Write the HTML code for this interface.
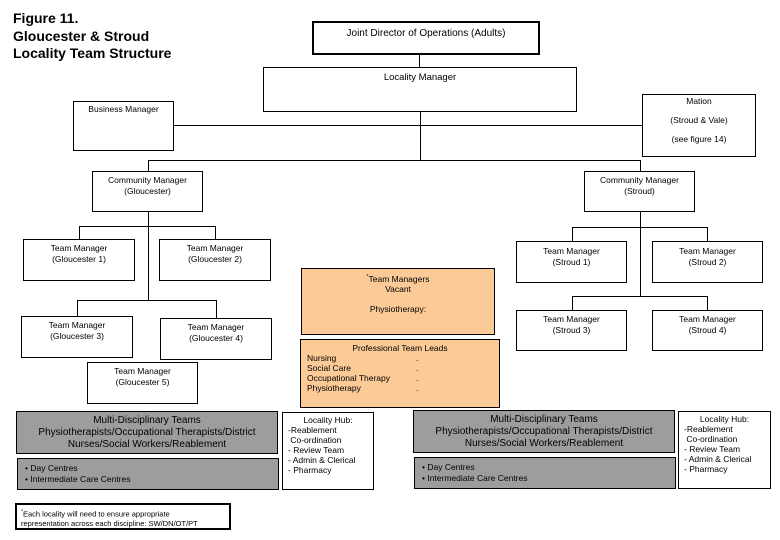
<!DOCTYPE html>
<html><head><meta charset="utf-8"><style>
body{margin:0;background:#fff;}
#c{position:relative;width:780px;height:540px;overflow:hidden;font-family:"Liberation Sans",Arial,sans-serif;color:#000;}
.b{position:absolute;border:1px solid #000;box-sizing:border-box;font-size:8.5px;text-align:center;line-height:11px;}
.h{position:absolute;height:1px;background:#000;}
.v{position:absolute;width:1px;background:#000;}
.g{background:#9d9d9d;}
.o{background:#fbca97;}
.t{position:absolute;font-size:8.5px;line-height:11px;white-space:nowrap;}
</style></head><body><div id="c">
<div class="t" style="left:13px;top:10px;font-size:14px;line-height:17.5px;font-weight:bold;">Figure 11.<br>Gloucester &amp; Stroud<br>Locality Team Structure</div>

<div class="b" style="left:312px;top:21px;width:228px;height:34px;border-width:2px;font-size:10px;padding-top:5px;">Joint Director of Operations (Adults)</div>
<div class="v" style="left:419px;top:55px;height:12px;"></div>
<div class="b" style="left:263px;top:67px;width:314px;height:45px;font-size:9.5px;padding-top:4px;">Locality Manager</div>
<div class="b" style="left:73px;top:101px;width:101px;height:50px;padding-top:2px;">Business Manager</div>
<div class="b" style="left:642px;top:94px;width:114px;height:63px;padding-top:2px;line-height:9.5px;">Mation<br><br>(Stroud &amp; Vale)<br><br>(see figure 14)</div>
<div class="h" style="left:174px;top:125px;width:468px;"></div>
<div class="v" style="left:420px;top:112px;height:48px;"></div>
<div class="h" style="left:148px;top:160px;width:492px;"></div>
<div class="v" style="left:148px;top:160px;height:11px;"></div>
<div class="v" style="left:640px;top:160px;height:11px;"></div>

<div class="b" style="left:92px;top:171px;width:111px;height:41px;padding-top:3px;">Community Manager<br>(Gloucester)</div>
<div class="b" style="left:584px;top:171px;width:111px;height:41px;padding-top:3px;">Community Manager<br>(Stroud)</div>

<div class="v" style="left:148px;top:212px;height:88px;"></div>
<div class="h" style="left:79px;top:226px;width:136px;"></div>
<div class="v" style="left:79px;top:226px;height:13px;"></div>
<div class="v" style="left:215px;top:226px;height:13px;"></div>
<div class="b" style="left:23px;top:239px;width:112px;height:42px;padding-top:3px;">Team Manager<br>(Gloucester 1)</div>
<div class="b" style="left:159px;top:239px;width:112px;height:42px;padding-top:3px;">Team Manager<br>(Gloucester 2)</div>
<div class="h" style="left:77px;top:300px;width:139px;"></div>
<div class="v" style="left:77px;top:300px;height:16px;"></div>
<div class="v" style="left:216px;top:300px;height:18px;"></div>
<div class="b" style="left:21px;top:316px;width:112px;height:42px;padding-top:3px;">Team Manager<br>(Gloucester 3)</div>
<div class="b" style="left:160px;top:318px;width:112px;height:42px;padding-top:3px;">Team Manager<br>(Gloucester 4)</div>
<div class="b" style="left:87px;top:362px;width:111px;height:42px;padding-top:3px;">Team Manager<br>(Gloucester 5)</div>

<div class="v" style="left:640px;top:212px;height:84px;"></div>
<div class="h" style="left:572px;top:227px;width:135px;"></div>
<div class="v" style="left:572px;top:227px;height:14px;"></div>
<div class="v" style="left:707px;top:227px;height:14px;"></div>
<div class="b" style="left:516px;top:241px;width:111px;height:42px;padding-top:4px;">Team Manager<br>(Stroud 1)</div>
<div class="b" style="left:652px;top:241px;width:111px;height:42px;padding-top:4px;">Team Manager<br>(Stroud 2)</div>
<div class="h" style="left:572px;top:296px;width:135px;"></div>
<div class="v" style="left:572px;top:296px;height:14px;"></div>
<div class="v" style="left:707px;top:296px;height:14px;"></div>
<div class="b" style="left:516px;top:310px;width:111px;height:41px;padding-top:3px;">Team Manager<br>(Stroud 3)</div>
<div class="b" style="left:652px;top:310px;width:111px;height:41px;padding-top:3px;">Team Manager<br>(Stroud 4)</div>

<div class="b o" style="left:301px;top:268px;width:194px;height:67px;padding-top:3px;line-height:10px;"><sup style="font-size:5px">*</sup>Team Managers<br>Vacant<br><br>Physiotherapy:</div>
<div class="b o" style="left:300px;top:339px;width:200px;height:69px;padding-top:3px;line-height:10px;">Professional Team Leads
<div style="position:absolute;left:6px;top:13px;text-align:left;">Nursing<br>Social Care<br>Occupational Therapy<br>Physiotherapy</div>
<div style="position:absolute;left:115px;top:13px;text-align:left;">.<br>.<br>.<br>.</div></div>

<div class="b g" style="left:16px;top:411px;width:262px;height:43px;font-size:10px;line-height:12px;padding-top:3px;">Multi-Disciplinary Teams<br>Physiotherapists/Occupational Therapists/District<br>Nurses/Social Workers/Reablement</div>
<div class="b g" style="left:17px;top:458px;width:262px;height:32px;text-align:left;padding:4px 0 0 7px;">• Day Centres<br>• Intermediate Care Centres</div>
<div class="b" style="left:282px;top:412px;width:92px;height:78px;padding-top:2px;line-height:10px;">Locality Hub:<div style="text-align:left;padding-left:5px;">-Reablement<br>&nbsp;Co-ordination<br>- Review Team<br>- Admin &amp; Clerical<br>- Pharmacy</div></div>

<div class="b g" style="left:413px;top:410px;width:262px;height:43px;font-size:10px;line-height:12px;padding-top:3px;">Multi-Disciplinary Teams<br>Physiotherapists/Occupational Therapists/District<br>Nurses/Social Workers/Reablement</div>
<div class="b g" style="left:414px;top:457px;width:262px;height:32px;text-align:left;padding:4px 0 0 7px;">• Day Centres<br>• Intermediate Care Centres</div>
<div class="b" style="left:678px;top:411px;width:93px;height:78px;padding-top:2px;line-height:10px;">Locality Hub:<div style="text-align:left;padding-left:5px;">-Reablement<br>&nbsp;Co-ordination<br>- Review Team<br>- Admin &amp; Clerical<br>- Pharmacy</div></div>

<div class="b" style="left:15px;top:503px;width:216px;height:27px;border-width:2px;text-align:left;font-size:7.5px;line-height:9px;padding:3px 0 0 4px;"><sup style="font-size:5px">*</sup>Each locality will need to ensure appropriate<br>representation across each discipline: SW/DN/OT/PT</div>
</div></body></html>
